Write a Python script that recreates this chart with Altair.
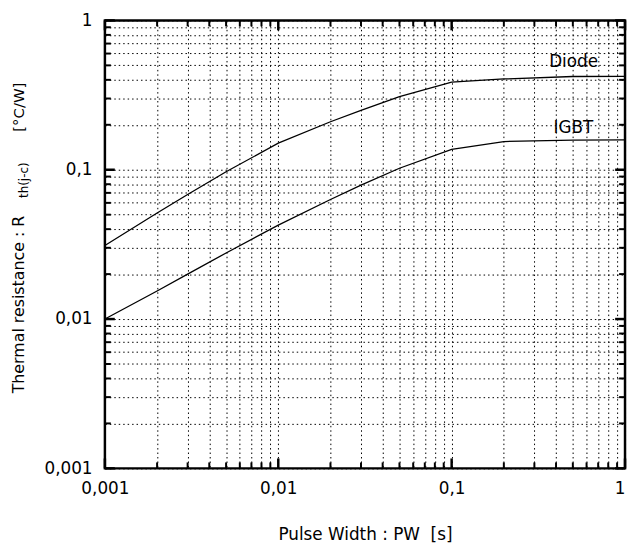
import altair as alt
import pandas as pd

# ---- data ----
pulse_width = [0.001, 0.002, 0.003, 0.005, 0.01, 0.02, 0.03, 0.05, 0.1, 0.2, 0.5, 1.0]
diode = [0.0311, 0.0513, 0.0683, 0.0969, 0.1507, 0.2096, 0.2497, 0.3092, 0.3857, 0.4055, 0.4212, 0.4225]
igbt = [0.0100, 0.0154, 0.0200, 0.0277, 0.0426, 0.0632, 0.0788, 0.1023, 0.1367, 0.1544, 0.1580, 0.1585]
series_names = ["Diode", "IGBT"]
decades = [0.001, 0.01, 0.1, 1.0]
minors = [round(m * d, 6) for d in decades[:-1] for m in range(2, 10)]
grid_values = sorted(decades + minors)

x_title = "Pulse Width : PW \u00a0[s]"
y_title_main = "Thermal resistance : R"
y_title_sub = "th(j-c)"
y_title_unit = "[°C/W]"

df = pd.DataFrame({
    "pw": pulse_width * 2,
    "zth": diode + igbt,
    "device": [series_names[0]] * len(pulse_width) + [series_names[1]] * len(pulse_width),
})

FONT = "DejaVu Sans"
W, H = 526, 453

xscale = alt.Scale(type="log", domain=[0.001, 1], nice=False)
yscale = alt.Scale(type="log", domain=[0.001, 1], nice=False)

label_expr = ("abs(log(datum.value)/LN10 - round(log(datum.value)/LN10)) < 0.001 ? "
              "replace(format(datum.value, '~g'), '.', ',') : ''")

common_axis = dict(
    values=grid_values, grid=True, gridDash=[1.5, 3], gridColor="black", gridWidth=1,
    gridOpacity=1, ticks=False, tickSize=0, domain=False, labelExpr=label_expr,
    labelFont=FONT, labelFontSize=17, labelColor="black", labelOverlap=False,
    labelFlush=False,
)
xaxis = alt.Axis(labelPadding=12, title=x_title, titleFont=FONT, titleFontSize=17,
                 titleFontWeight="normal", titleColor="black", titleY=71.5,
                 titleBaseline="alphabetic",
                 labelAlign={"condition": {"test": "datum.value >= 0.99", "value": "right"},
                             "value": "center"},
                 **common_axis)
yaxis = alt.Axis(labelPadding=13, title=None, **common_axis)

lines = alt.Chart(df).mark_line(color="black", strokeWidth=1.3).encode(
    x=alt.X("pw:Q", scale=xscale, axis=xaxis),
    y=alt.Y("zth:Q", scale=yscale, axis=yaxis),
    detail="device:N",
)

major_df = pd.DataFrame({"v": decades})
minor_df = pd.DataFrame({"v": minors})


def x_ticks(data, length, top, width):
    y0 = 0 if top else H
    y1 = length if top else H - length
    return alt.Chart(data).mark_rule(color="black", strokeWidth=width).encode(
        x=alt.X("v:Q", scale=xscale, axis=xaxis),
        y=alt.value(y0), y2=alt.value(y1))


def y_ticks(data, length, left, width):
    x0 = 0 if left else W
    x1 = length if left else W - length
    return alt.Chart(data).mark_rule(color="black", strokeWidth=width).encode(
        y=alt.Y("v:Q", scale=yscale, axis=yaxis),
        x=alt.value(x0), x2=alt.value(x1))


ticks = []
for top in (True, False):
    ticks.append(x_ticks(minor_df, 6, top, 2))
    ticks.append(x_ticks(major_df, 10, top, 2.5))
for left in (True, False):
    ticks.append(y_ticks(minor_df, 6, left, 2))
    ticks.append(y_ticks(major_df, 10, left, 2.5))

label_pos = {"Diode": (0.505, 0.484), "IGBT": (0.504, 0.177)}
labels = []
for name in series_names:
    xv, yv = label_pos[name]
    labels.append(
        alt.Chart(pd.DataFrame({"device": [name]})).mark_text(
            font=FONT, fontSize=17, color="black", align="center", baseline="alphabetic"
        ).encode(x=alt.X(datum=xv, scale=xscale, axis=xaxis),
                 y=alt.Y(datum=yv, scale=yscale, axis=yaxis), text="device:N")
    )


def ytitle_piece(txt, x, y, size, align):
    return alt.Chart(pd.DataFrame({"t": [txt]})).mark_text(
        font=FONT, fontSize=size, color="black", angle=270, align=align, baseline="alphabetic"
    ).encode(x=alt.value(x), y=alt.value(y), text="t:N")


ytitle = [
    ytitle_piece(y_title_main, -82, 197.5, 16, "right"),
    ytitle_piece(y_title_sub, -78, 179.5, 12, "left"),
    ytitle_piece(y_title_unit, -82, 112.5, 15, "left"),
]

chart = alt.layer(lines, *ticks, *labels, *ytitle).properties(
    width=W, height=H,
    autosize=alt.AutoSizeParams(type="none"),
    padding={"left": 98, "top": 9.5, "right": 2, "bottom": 80},
    background="white",
).configure_view(stroke="black", strokeWidth=2.5)

chart.save("out.html", embed_options={"renderer": "svg", "actions": False})
